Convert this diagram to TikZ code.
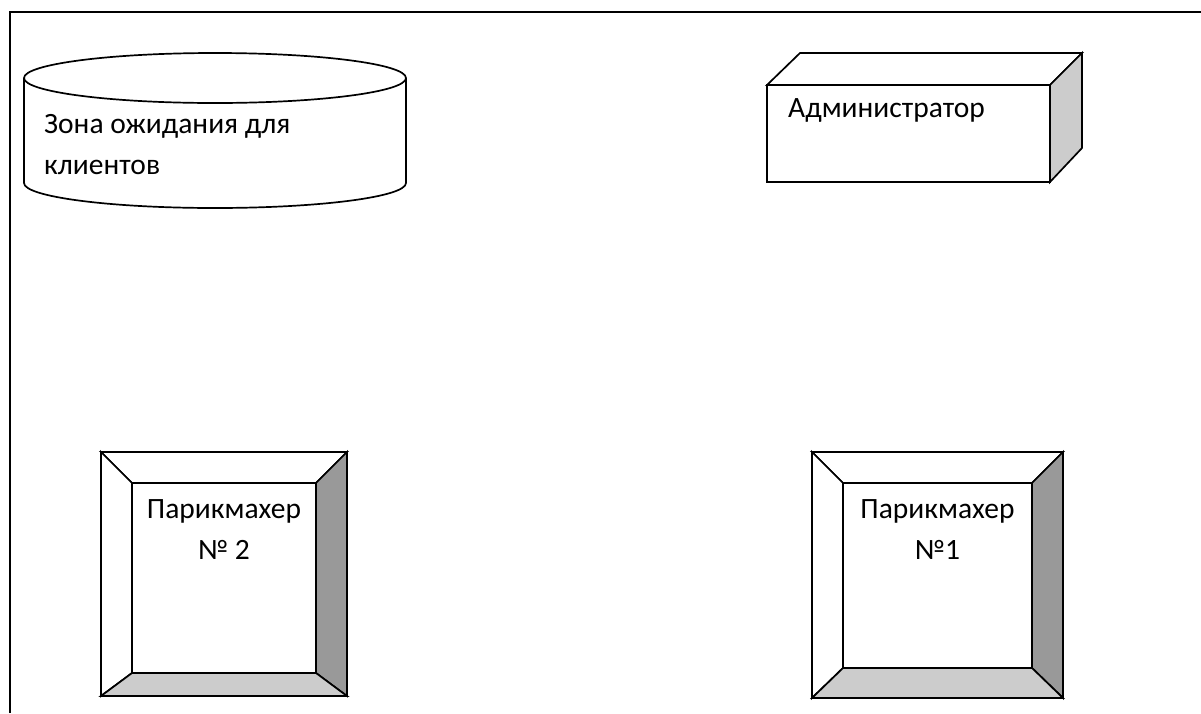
\documentclass[tikz,border=0pt]{standalone}
\usepackage{fontspec}
\setmainfont{Carlito}
\usetikzlibrary{calc,positioning}
\definecolor{bevelgray}{gray}{0.8}
\definecolor{beveldark}{gray}{0.6}
\tikzstyle{edge} = [line width=1.7pt, line join=miter]
\tikzstyle{txt} = [font=\fontsize{29.5}{41}\selectfont, inner sep=0pt]

\begin{document}
\begin{tikzpicture}[x=1pt,y=-1pt]
    \useasboundingbox (0,0) rectangle (1201,713);
    % frame, only top and left edge are shown
    \coordinate (FrameBL) at (10,713);
    \coordinate (FrameTL) at (10,12);
    \coordinate (FrameTR) at (1201,12);
    \draw[edge] (FrameBL) -- (FrameTL) -- (FrameTR);

    % waiting zone (cylinder)
    \coordinate (WaitTop) at (215,78);
    \filldraw[edge, fill=white] (24,78) -- (24,183)
        arc[start angle=180, end angle=0, x radius=191, y radius=25] -- (406,78);
    \filldraw[edge, fill=white] (WaitTop) ellipse [x radius=191, y radius=25];
    \node[txt, align=left, anchor=north west] (wait) at (44,114) {Зона ожидания для\\клиентов};

    % administrator (box)
    \filldraw[edge, fill=white] (767,85) -- (800,53) -- (1082,53) -- (1050,85) -- cycle;
    \filldraw[edge, fill=bevelgray] (1050,85) -- (1082,53) -- (1082,148) -- (1050,182) -- cycle;
    \filldraw[edge, fill=white] (767,85) rectangle (1050,182);
    \node[txt, anchor=base west] (admin) at (788,117) {Администратор};

    % barbers (bevelled squares)
    \foreach \ox/\oy/\OX/\OY/\ix/\iy/\IX/\IY in
        {101/452/347/696/132/483/316/673, 812/452/1063/698/843/483/1032/668}{%
      \filldraw[edge, fill=white] (\ox,\oy) -- (\OX,\oy) -- (\IX,\iy) -- (\ix,\iy) -- cycle;
      \filldraw[edge, fill=white] (\ox,\oy) -- (\ix,\iy) -- (\ix,\IY) -- (\ox,\OY) -- cycle;
      \filldraw[edge, fill=beveldark] (\OX,\oy) -- (\OX,\OY) -- (\IX,\IY) -- (\IX,\iy) -- cycle;
      \filldraw[edge, fill=bevelgray] (\ox,\OY) -- (\OX,\OY) -- (\IX,\IY) -- (\ix,\IY) -- cycle;
    }
    \node[txt, align=center, anchor=north] (barber2) at (224,499) {Парикмахер\\№ 2};
    \node[txt, align=center, anchor=north] (barber1) at (937.5,499) {Парикмахер\\№1};
\end{tikzpicture}
\end{document}
